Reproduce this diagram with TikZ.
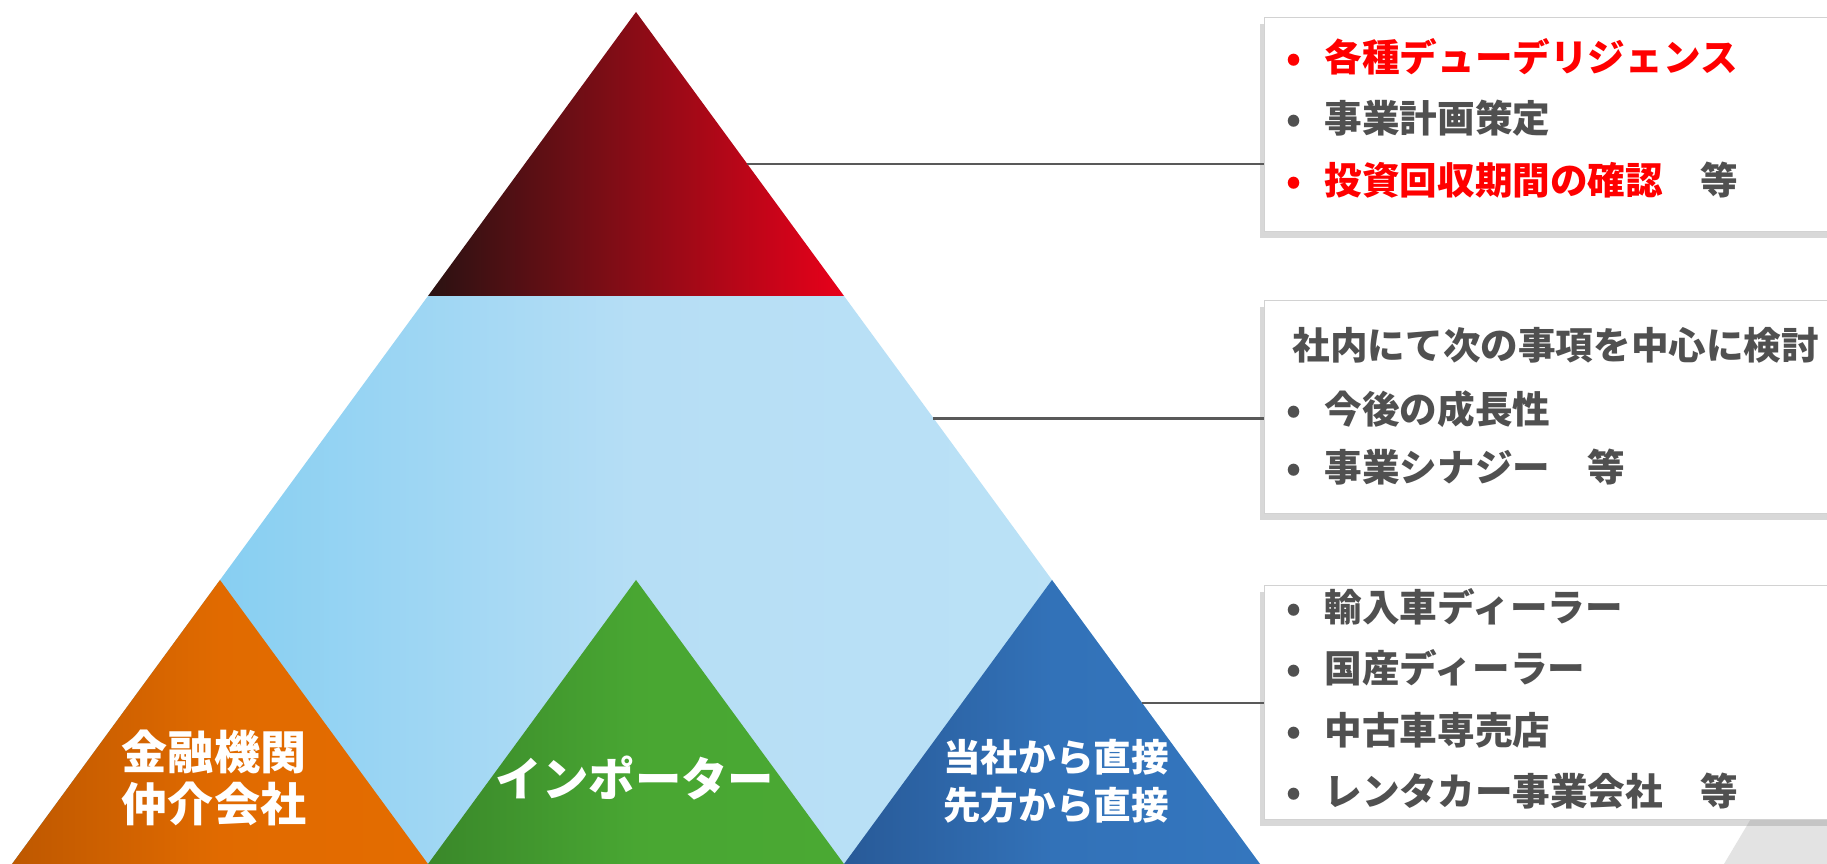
\documentclass[tikz,border=0pt]{standalone}
\usepackage{fontspec}
\setmainfont{Noto Sans CJK JP}
\usetikzlibrary{calc,positioning,shadows}
\definecolor{redDark}{RGB}{42,18,18}
\definecolor{redMid}{RGB}{138,12,22}
\definecolor{redLight}{RGB}{232,0,26}
\definecolor{skyLeft}{RGB}{112,199,240}
\definecolor{skyMid}{RGB}{182,222,245}
\definecolor{skyRight}{RGB}{189,227,247}
\definecolor{orgLeft}{RGB}{190,88,0}
\definecolor{orgRight}{RGB}{228,108,0}
\definecolor{grnLeft}{RGB}{58,136,42}
\definecolor{grnRight}{RGB}{74,169,51}
\definecolor{bluLeft}{RGB}{40,90,152}
\definecolor{bluRight}{RGB}{52,118,190}
\definecolor{textGray}{RGB}{80,80,80}
\definecolor{lineGray}{RGB}{89,89,89}
\definecolor{alertRed}{RGB}{255,0,0}
\newcommand{\bul}{\makebox[0.38cm][l]{•}}

\begin{document}
\begin{tikzpicture}[
        infobox/.style={rectangle, draw=gray!35, fill=white, anchor=north west, minimum width=6.4cm, drop shadow={shadow xshift=-0.05cm, shadow yshift=-0.06cm, opacity=0.3}},
        item/.style={anchor=west, inner sep=0pt, text=textGray, font=\bfseries\fontsize{10.7}{12}\selectfont},
        tritext/.style={align=center, text=white, font=\bfseries\fontsize{13.1}{15}\selectfont},
        link/.style={draw=lineGray, line width=0.8pt}
    ]
        \useasboundingbox[fill=white] (0,0) rectangle (18.27,8.64);

        % Pyramid corners
        \coordinate (top) at (6.36,8.52);
        \coordinate (midL) at (4.28,5.68);
        \coordinate (midR) at (8.44,5.68);
        \coordinate (baseL) at (0.12,0);
        \coordinate (baseR) at (12.60,0);
        \coordinate (bluTop) at (10.52,2.84);

        % Middle band
        \shade[left color=skyLeft, right color=skyRight, middle color=skyMid] (midL) -- (midR) -- (baseR) -- (baseL) -- cycle;

        % Top triangle
        \shade[left color=redDark, right color=redLight, middle color=redMid] (top) -- (midR) -- (midL) -- cycle;

        % Bottom triangles
        \shade[left color=orgLeft, right color=orgRight, middle color=orgRight!92!orgLeft] (2.20,2.84) -- (4.28,0) -- (baseL) -- cycle;
        \shade[left color=grnLeft, right color=grnRight, middle color=grnRight!92!grnLeft] (6.36,2.84) -- (8.44,0) -- (4.28,0) -- cycle;
        \shade[left color=bluLeft, right color=bluRight, middle color=bluRight!85!bluLeft] (bluTop) -- (baseR) -- (8.44,0) -- cycle;

        % Triangle labels
        \node[tritext] (fin) at (2.14,0.86) {金融機関\\仲介会社};
        \node[tritext, font=\bfseries\fontsize{13.2}{15}\selectfont] (imp) at (6.35,0.86) {インポーター};
        \node[tritext, font=\bfseries\fontsize{10.7}{13.6}\selectfont] (direct) at (10.56,0.83) {当社から直接\\先方から直接};

        % Corner decoration
        \fill[gray!22] (17.24,0) -- (17.52,0.47) -- (18.27,0.47) -- (18.27,0) -- cycle;

        % Boxes
        \node[infobox, minimum height=2.14cm] (due) at (12.64,8.47) {};
        \node[infobox, minimum height=2.13cm] (study) at (12.64,5.64) {};
        \node[infobox, minimum height=2.34cm] (dealer) at (12.64,2.79) {};

        % Box texts
        \node[item, text=alertRed] (d1) at (12.86,8.07) {\bul 各種デューデリジェンス};
        \node[item, below=0.61cm of d1.west, anchor=west] (d2) {\bul 事業計画策定};
        \node[item, below=0.62cm of d2.west, anchor=west] (d3) {\textcolor{alertRed}{\bul 投資回収期間の確認}　等};

        \node[item] (s0) at (12.92,5.19) {社内にて次の事項を中心に検討};
        \node[item, below=0.64cm of s0.west, anchor=west, xshift=-0.06cm] (s1) {\bul 今後の成長性};
        \node[item, below=0.58cm of s1.west, anchor=west] (s2) {\bul 事業シナジー　等};

        \node[item] (t1) at (12.86,2.57) {\bul 輸入車ディーラー};
        \node[item, below=0.61cm of t1.west, anchor=west] (t2) {\bul 国産ディーラー};
        \node[item, below=0.62cm of t2.west, anchor=west] (t3) {\bul 中古車専売店};
        \node[item, below=0.61cm of t3.west, anchor=west] (t4) {\bul レンタカー事業会社　等};

        % Connectors
        \coordinate (p1) at ($(top)!0.535!(midR)$);
        \coordinate (p2) at ($(midR)!0.215!(baseR)$);
        \coordinate (p3) at ($(bluTop)!0.433!(baseR)$);
        \draw[link] (p1) -- (p1 -| due.west);
        \draw[link] (p2) -- (p2 -| study.west);
        \draw[link] (p3) -- (p3 -| dealer.west);

    \end{tikzpicture}
\end{document}
